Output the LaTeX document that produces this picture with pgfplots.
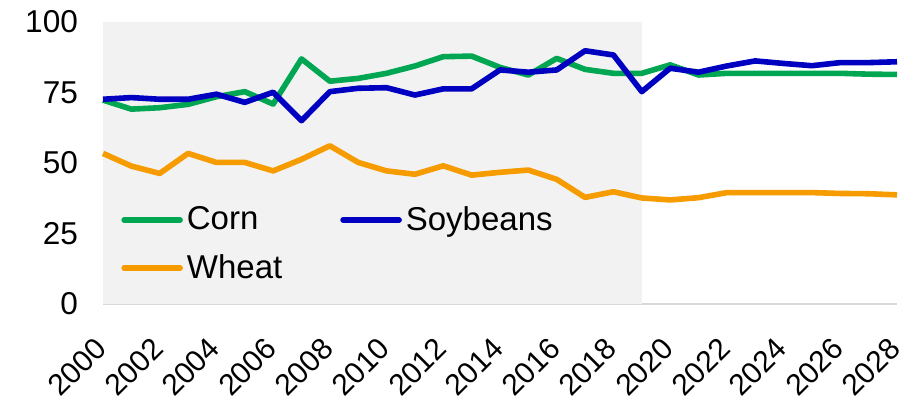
\documentclass[border=0pt]{standalone}
\usepackage{pgfplots}
\pgfplotsset{compat=1.18}
\usepackage{fontspec}
\setmainfont{Liberation Sans}

\definecolor{corn}{RGB}{0,166,81}
\definecolor{soy}{RGB}{0,0,192}
\definecolor{wheat}{RGB}{246,155,0}
\definecolor{bgshade}{RGB}{242,242,242}
\definecolor{axisgray}{RGB}{217,217,217}

\begin{document}
\begin{tikzpicture}
\begin{axis}[
  at={(0,0)}, anchor=south west,
  scale only axis,
  width=397pt, height=141pt,
  xmin=2000, xmax=2028,
  ymin=0, ymax=100,
  xtick={2000,2002,...,2028},
  ytick={0,25,50,75,100},
  major tick length=0pt,
  axis x line*=bottom,
  axis y line*=left,
  x axis line style={draw=axisgray, line width=1pt},
  y axis line style={draw=none},
  ytick style={draw=none},
  xtick style={draw=none},
  /pgf/number format/1000 sep={},
  /pgf/number format/assume math mode=true,
  yticklabel style={font=\fontsize{15.8}{19}\selectfont, anchor=east, xshift=-9pt},
  xticklabel style={font=\fontsize{15}{18}\selectfont, rotate=45, anchor=east, xshift=-11.2pt, yshift=-13.2pt},
  legend columns=2,
  legend style={draw=none, fill=none, at={(rel axis cs:0.015,0.213)}, anchor=west,
    font=\fontsize{16.5}{19}\selectfont, row sep=6.5pt,
    /tikz/every even column/.append style={column sep=27pt}},
  legend cell align=left,
  legend image code/.code={\draw[#1, line width=2.8pt, line cap=round] (0pt,0pt) -- (28pt,0pt);},
  every axis plot/.append style={line width=2.8pt, line join=round, mark=none},
  clip=false,
]
% shaded span of the historical years
\fill[bgshade] (axis cs:2000,0) rectangle (axis cs:2019,100);

\addplot[corn] coordinates {
(2000,72.3) (2001,69.1) (2002,69.6) (2003,70.8) (2004,73.5) (2005,75.3) (2006,70.9)
(2007,86.9) (2008,79.0) (2009,80.0) (2010,81.8) (2011,84.4) (2012,87.7) (2013,87.9)
(2014,83.9) (2015,81.2) (2016,87.1) (2017,83.2) (2018,81.8) (2019,81.8) (2020,84.8)
(2021,81.2) (2022,81.8) (2023,81.8) (2024,81.8) (2025,81.8) (2026,81.8) (2027,81.5)
(2028,81.4)};
\addlegendentry{Corn}

\addplot[soy] coordinates {
(2000,72.6) (2001,73.2) (2002,72.6) (2003,72.6) (2004,74.4) (2005,71.5) (2006,75.1)
(2007,65.0) (2008,75.3) (2009,76.5) (2010,76.7) (2011,74.1) (2012,76.3) (2013,76.3)
(2014,83.0) (2015,82.2) (2016,83.0) (2017,89.8) (2018,88.3) (2019,75.3) (2020,83.6)
(2021,82.2) (2022,84.4) (2023,86.2) (2024,85.3) (2025,84.5) (2026,85.6) (2027,85.6)
(2028,85.9)};
\addlegendentry{Soybeans}

\addplot[wheat] coordinates {
(2000,53.4) (2001,48.9) (2002,46.3) (2003,53.4) (2004,50.2) (2005,50.2) (2006,47.2)
(2007,51.3) (2008,56.1) (2009,50.2) (2010,47.2) (2011,46.0) (2012,49.0) (2013,45.7)
(2014,46.7) (2015,47.5) (2016,44.2) (2017,37.8) (2018,39.8) (2019,37.6) (2020,36.9)
(2021,37.7) (2022,39.5) (2023,39.5) (2024,39.5) (2025,39.5) (2026,39.2) (2027,39.1)
(2028,38.7)};
\addlegendentry{Wheat}
\end{axis}
\pgfresetboundingbox
\useasboundingbox (-51.5pt,-48pt) rectangle (408pt,152pt);
\end{tikzpicture}
\end{document}
